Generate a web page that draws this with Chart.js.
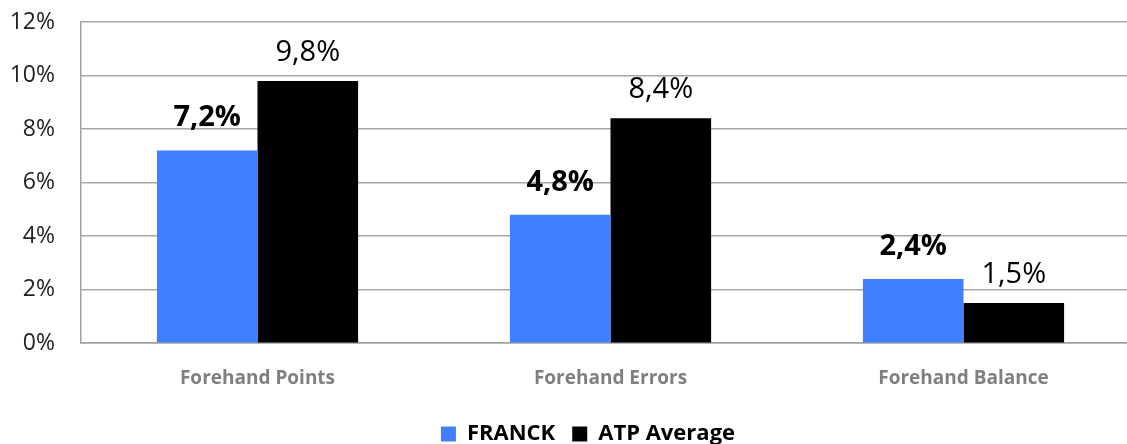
<!DOCTYPE html>
<html>
<head>
<meta charset="utf-8">
<script src="https://cdn.jsdelivr.net/npm/chart.js@4"></script>
<style>
    body { margin: 0; background: #fff; overflow: hidden; }
    #wrap { width: 1176px; height: 444px; }
</style>
</head>
<body>
<div id="wrap"><canvas id="forehandChart"></canvas></div>
<script>
// ---------- chart data ----------
const categories = ["Forehand Points", "Forehand Errors", "Forehand Balance"];
const franckValues = [7.2, 4.8, 2.4];
const atpValues = [9.8, 8.4, 1.5];
const yTicks = [0, 2, 4, 6, 8, 10, 12];

const FONT = "'Open Sans', sans-serif";

// draws the "7,2%" style labels over each bar
const valueLabels = {
    id: 'valueLabels',
    afterDatasetsDraw(chart) {
        const ctx = chart.ctx;
        chart.data.datasets.forEach((ds, i) => {
            const meta = chart.getDatasetMeta(i);
            ctx.save();
            ctx.font = `${ds.labelWeight} 29px ${FONT}`;
            ctx.fillStyle = '#000';
            ctx.textAlign = 'center';
            ctx.textBaseline = 'alphabetic';
            meta.data.forEach((bar, j) => {
                const txt = ds.data[j].toFixed(1).replace('.', ',') + '%';
                ctx.fillText(txt, bar.x, bar.y - ds.labelGap);
            });
            ctx.restore();
        });
    }
};

// y labels hang left of the axis box, so stretch the box to the canvas edge
// (otherwise chart.js clips them)
const widenYAxis = {
    id: 'widenYAxis',
    afterLayout(chart) {
        const y = chart.scales.y;
        y.width = y.right;
        y.left = 0;
    }
};

new Chart(document.getElementById('forehandChart'), {
    type: 'bar',
    data: {
        labels: categories,
        datasets: [
            {
                label: 'FRANCK',
                data: franckValues,
                backgroundColor: '#4080ff',
                labelWeight: 'bold',
                labelGap: 24
            },
            {
                label: 'ATP Average',
                data: atpValues,
                backgroundColor: '#000000',
                labelWeight: 'normal',
                labelGap: 20
            }
        ]
    },
    options: {
        responsive: true,
        maintainAspectRatio: false,
        animation: false,
        datasets: { bar: { categoryPercentage: 0.57, barPercentage: 1.0 } },
        layout: { padding: { top: 22, right: 36, left: 36, bottom: -11 } },
        scales: {
            x: {
                grid: { display: false },
                border: { color: '#a0a0a0', width: 1.5 },
                ticks: { color: '#7f7f7f', font: { family: FONT, size: 19, weight: 'bold' }, padding: 16 }
            },
            y: {
                min: yTicks[0],
                max: yTicks[yTicks.length - 1],
                afterBuildTicks: (axis) => { axis.ticks = yTicks.map(v => ({ value: v })); },
                afterFit: (axis) => {
                    axis.width = 45;
                    axis.paddingTop = 0;
                    axis.paddingBottom = 0;
                },
                grid: { color: '#a6a6a6', lineWidth: 1.5, drawTicks: false },
                border: { color: '#a0a0a0', width: 1.5 },
                ticks: {
                    color: '#222',
                    font: { family: FONT, size: 23 },
                    padding: 26,
                    callback: (v) => `${v}%`
                }
            }
        },
        plugins: {
            legend: {
                position: 'bottom',
                labels: {
                    color: '#000',
                    font: { family: FONT, size: 22, weight: 'bold' },
                    boxWidth: 15,
                    boxHeight: 15,
                    padding: 17
                }
            },
            tooltip: { enabled: false }
        }
    },
    plugins: [valueLabels, widenYAxis]
});
</script>
</body>
</html>
